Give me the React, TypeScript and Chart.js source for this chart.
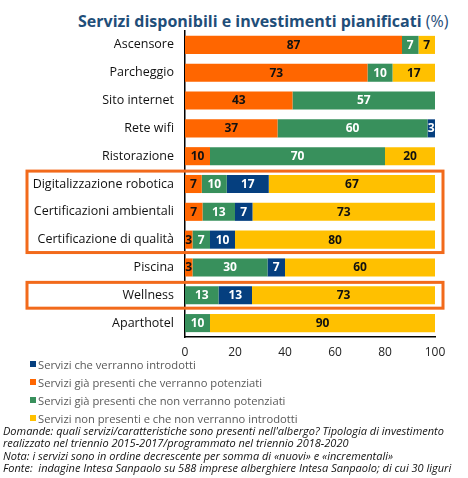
import React, { useEffect, useRef } from "react";
import { Chart, registerables } from "chart.js";

Chart.register(...registerables);

const categories = [
  "Ascensore",
  "Parcheggio",
  "Sito internet",
  "Rete wifi",
  "Ristorazione",
  "Digitalizzazione robotica",
  "Certificazioni ambientali",
  "Certificazione di qualità",
  "Piscina",
  "Wellness",
  "Aparthotel",
];
const potenziati = [86.8, 73, 43, 37, 10, 6.7, 7, 3, 3, 0, 0];
const nonPotenziati = [6.6, 10, 57, 60, 70, 10, 13, 7, 30, 13.4, 10];
const introdotti = [0, 0, 0, 3, 0, 16.8, 7, 10, 7, 13.4, 0];
const nonPresenti = [6.6, 17, 0, 0, 20, 66.5, 73, 80, 60, 73.2, 90];
const xTicks = [0, 20, 40, 60, 80, 100];
const highlightGroups = [
  [5, 7],
  [9, 9],
];

const seriesNames = {
  introdotti: "Servizi che verranno introdotti",
  potenziati: "Servizi già presenti che verranno potenziati",
  nonPotenziati: "Servizi già presenti che non verranno potenziati",
  nonPresenti: "Servizi non presenti e che non verranno introdotti",
};

const COLORS = {
  potenziati: "#FF6600",
  nonPotenziati: "#38905C",
  introdotti: "#053F7F",
  nonPresenti: "#FFC000",
};
const LABEL_COLORS = ["#111111", "#FFFFFF", "#FFFFFF", "#111111"];
const FONT = '"Open Sans", "DejaVu Sans", sans-serif';

const notes = [
  "Domande: quali servizi/caratteristiche sono presenti nell'albergo? Tipologia di investimento",
  "realizzato nel triennio 2015-2017/programmato nel triennio 2018-2020",
  "Nota: i servizi sono in ordine decrescente per somma di «nuovi» e «incrementali»",
  "Fonte:  indagine Intesa Sanpaolo su 588 imprese alberghiere Intesa Sanpaolo; di cui 30 liguri",
];

const labelPlugin = {
  id: "segLabels",
  afterDatasetsDraw(chart: any) {
    const ctx = chart.ctx;
    const area = chart.chartArea;
    ctx.save();
    ctx.font = `bold 12px ${FONT}`;
    ctx.textAlign = "center";
    ctx.textBaseline = "middle";
    chart.data.datasets.forEach((ds: any, di: number) => {
      const meta = chart.getDatasetMeta(di);
      meta.data.forEach((el: any, i: number) => {
        const v = ds.data[i];
        if (!v) return;
        const p = el.getProps(["x", "base", "y"], true);
        const x1 = Math.min(Math.max(p.x, p.base), area.right);
        const x0 = Math.max(Math.min(p.x, p.base), area.left);
        ctx.fillStyle = LABEL_COLORS[di];
        ctx.fillText(String(Math.round(v)), (x0 + x1) / 2, p.y + 0.5);
      });
    });
    ctx.restore();
  },
};

const boxPlugin = {
  id: "highlightBoxes",
  afterDraw(chart: any) {
    const y = chart.scales.y;
    const ctx = chart.ctx;
    const step = y.getPixelForValue(1) - y.getPixelForValue(0);
    ctx.save();
    ctx.strokeStyle = "#F26A1B";
    ctx.lineWidth = 3;
    highlightGroups.forEach(([a, b]) => {
      const top = y.getPixelForValue(a) - step / 2 + 1;
      const bottom = y.getPixelForValue(b) + step / 2 - 1;
      const left = 27;
      const right = chart.chartArea.right + 8;
      ctx.strokeRect(left, top, right - left, bottom - top);
    });
    ctx.restore();
  },
};

export default function App() {
  const ref = useRef<HTMLCanvasElement | null>(null);

  useEffect(() => {
    document.body.style.margin = "0";
    if (!ref.current) return;
    const chart = new Chart(ref.current, {
      type: "bar",
      data: {
        labels: categories,
        datasets: [
          { label: seriesNames.potenziati, data: potenziati, backgroundColor: COLORS.potenziati },
          { label: seriesNames.nonPotenziati, data: nonPotenziati, backgroundColor: COLORS.nonPotenziati },
          { label: seriesNames.introdotti, data: introdotti, backgroundColor: COLORS.introdotti },
          { label: seriesNames.nonPresenti, data: nonPresenti, backgroundColor: COLORS.nonPresenti },
        ],
      },
      options: {
        indexAxis: "y",
        animation: false,
        responsive: false,
        maintainAspectRatio: false,
        layout: { padding: { top: 31, right: 33, left: 0, bottom: 0 } },
        datasets: {
          bar: {
            barPercentage: 0.65,
            categoryPercentage: 1,
            borderWidth: 0,
          },
        },
        plugins: {
          legend: { display: false },
          title: { display: false },
          tooltip: { enabled: false },
        },
        scales: {
          x: {
            stacked: true,
            min: 0,
            max: 100,
            afterBuildTicks: (scale: any) => {
              scale.ticks = xTicks.map((v) => ({ value: v }));
            },
            afterFit: (scale: any) => {
              scale.height = 28;
            },
            grid: { display: false, drawTicks: false },
            border: { display: true, color: "#000000", width: 1.5 },
            ticks: {
              padding: 8,
              color: "#222222",
              font: { family: FONT, size: 12 },
            },
          },
          y: {
            stacked: true,
            afterFit: (scale: any) => {
              scale.width = 185;
            },
            grid: { display: false, drawTicks: false },
            border: { display: true, color: "#000000", width: 1.5 },
            ticks: {
              padding: 11,
              color: "#111111",
              font: { family: FONT, size: 12.5 },
            },
          },
        },
      },
      plugins: [labelPlugin, boxPlugin],
    });
    return () => chart.destroy();
  }, []);

  const legendOrder: (keyof typeof COLORS)[] = ["introdotti", "potenziati", "nonPotenziati", "nonPresenti"];

  return (
    <div style={{ position: "relative", width: 468, height: 478, fontFamily: FONT, overflow: "hidden" }}>
      <div
        style={{
          position: "absolute",
          left: 78,
          top: 10,
          whiteSpace: "nowrap",
          color: "#1F4E79",
          fontSize: 16,
          lineHeight: "22px",
        }}
      >
        <span style={{ fontWeight: 700 }}>Servizi disponibili e investimenti pianificati </span>
        <span>(%)</span>
      </div>
      <canvas ref={ref} width={468} height={365} style={{ position: "absolute", left: 0, top: 0, width: 468, height: 365 }} />
      <div style={{ position: "absolute", left: 30, top: 355 }}>
        {legendOrder.map((k) => (
          <div key={k} style={{ display: "flex", alignItems: "center", height: 18, whiteSpace: "nowrap" }}>
            <span style={{ display: "inline-block", width: 6, height: 6, background: COLORS[k], marginRight: 2 }} />
            <span style={{ color: "#595959", fontSize: 11.2 }}>{seriesNames[k]}</span>
          </div>
        ))}
      </div>
      <div style={{ position: "absolute", left: 3, top: 425, fontStyle: "italic", fontSize: 11, lineHeight: "12.4px", color: "#111111" }}>
        {notes.map((n, i) => (
          <div key={i} style={{ whiteSpace: "pre" }}>
            {n}
          </div>
        ))}
      </div>
    </div>
  );
}
